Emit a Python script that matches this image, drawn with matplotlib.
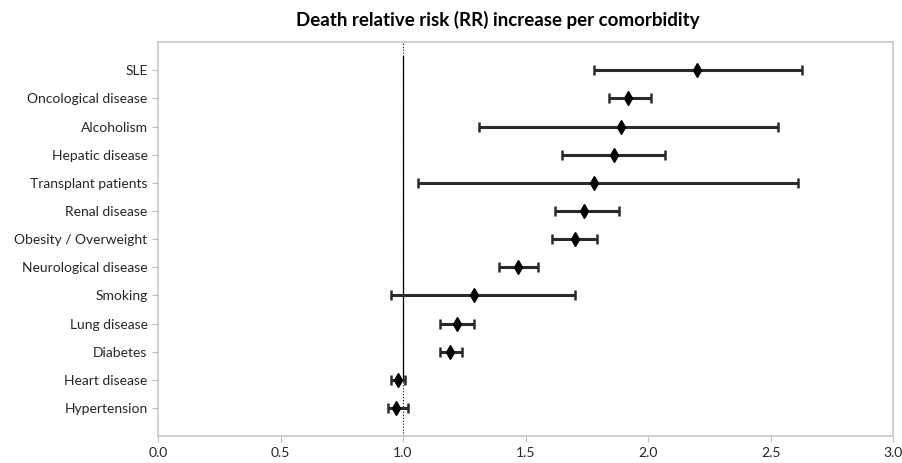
import matplotlib
matplotlib.use("Agg")
import matplotlib.pyplot as plt

plt.rcParams['font.family'] = ['Lato', 'DejaVu Sans']

labels = ["SLE", "Oncological disease", "Alcoholism", "Hepatic disease",
          "Transplant patients", "Renal disease", "Obesity / Overweight",
          "Neurological disease", "Smoking", "Lung disease", "Diabetes",
          "Heart disease", "Hypertension"]
rr = [2.20, 1.92, 1.89, 1.86, 1.78, 1.74, 1.70, 1.47, 1.29, 1.22, 1.19, 0.98, 0.97]
ci_low = [1.78, 1.84, 1.31, 1.65, 1.06, 1.62, 1.61, 1.39, 0.95, 1.15, 1.15, 0.95, 0.94]
ci_high = [2.63, 2.01, 2.53, 2.07, 2.61, 1.88, 1.79, 1.55, 1.70, 1.29, 1.24, 1.01, 1.02]

n = len(labels)
ypos = [n - i for i in range(n)]
err_lo = [r - l for r, l in zip(rr, ci_low)]
err_hi = [h - r for r, h in zip(rr, ci_high)]

fig = plt.figure(figsize=(9.03, 4.63), dpi=100)
ax = fig.add_axes([0.175, 0.058, 0.814, 0.851])

# reference line at RR = 1
ax.plot([1, 1], [0, n + 1], color="black", linestyle=":", linewidth=0.8)
ax.plot([1, 1], [2, n + 0.5], color="black", linestyle="-", linewidth=0.9)

ax.errorbar(rr, ypos, xerr=[err_lo, err_hi], fmt="d", color="black",
            ecolor="#2a2a2a", elinewidth=2.2, capsize=3.5, capthick=1.8,
            markersize=7.5)

ax.set_xlim(0, 3)
ax.set_ylim(0, n + 1)
ax.set_xticks([0, 0.5, 1, 1.5, 2, 2.5, 3])
ax.set_xticklabels(["0.0", "0.5", "1.0", "1.5", "2.0", "2.5", "3.0"])
ax.set_yticks(ypos)
ax.set_yticklabels(labels)
ax.tick_params(axis="both", colors="#bfbfbf", labelcolor="#262626",
               labelsize=10, length=4)
for s in ax.spines.values():
    s.set_color("#c8c8c8")
    s.set_linewidth(1.2)

fig.text(0.551, 0.957, "Death relative risk (RR) increase per comorbidity",
         ha="center", va="center", fontsize=13.5, fontweight="bold")

plt.savefig("out.png", dpi=100)
